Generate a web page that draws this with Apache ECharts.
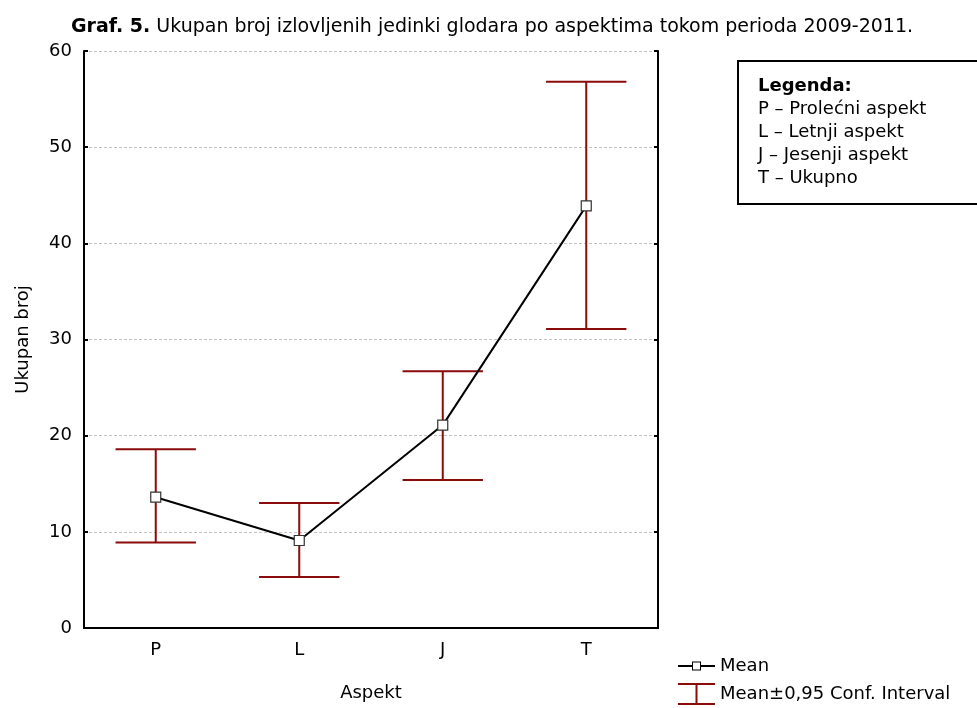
<!DOCTYPE html>
<html>
<head>
<meta charset="utf-8">
<script src="https://cdn.jsdelivr.net/npm/echarts@6/dist/echarts.min.js"></script>
<style>html,body{margin:0;padding:0;background:#fff;}#chart{width:977px;height:708px;}</style>
</head>
<body>
<div id="chart"></div>
<script>
const categories = ['P', 'L', 'J', 'T'];
const meanValues = [13.6, 9.1, 21.1, 43.9];
const ciLower = [8.9, 5.3, 15.4, 31.1];
const ciUpper = [18.6, 13.0, 26.7, 56.8];
const yTicks = { min: 0, max: 60, interval: 10 };
const legendLines = ['P – Prolećni aspekt', 'L – Letnji aspekt', 'J – Jesenji aspekt', 'T – Ukupno'];

const FONT = 'DejaVu Sans, Liberation Sans, Arial, sans-serif';
const RED = '#8B0A0A';

const chart = echarts.init(document.getElementById('chart'), null, { renderer: 'canvas' });

const ciData = categories.map((c, i) => [i, ciLower[i], ciUpper[i]]);

const option = {
  backgroundColor: '#fff',
  animation: false,
  textStyle: { fontFamily: FONT },
  title: {
    text: '{b|Graf. 5.} Ukupan broj izlovljenih jedinki glodara po aspektima tokom perioda 2009-2011.',
    left: 66,
    top: 13,
    textStyle: {
      fontFamily: FONT, fontSize: 19, fontWeight: 'normal', color: '#000',
      rich: { b: { fontFamily: FONT, fontSize: 19, fontWeight: 'bold', color: '#000' } }
    }
  },
  grid: { left: 84, right: 319, top: 51, bottom: 80 },
  legend: [
    {
      orient: 'vertical', left: 673, top: 652, itemWidth: 37, itemHeight: 9, itemGap: 10,
      textStyle: { fontFamily: FONT, fontSize: 18, color: '#000' },
      selectedMode: false,
      data: [{
        name: 'Mean',
        icon: 'path://M0,3.5h14v2h-14z M14,0h9v9h-9z M15,1v7h7v-7z M23,3.5h14v2h-14z',
        itemStyle: { color: '#000', borderWidth: 0 }
      }]
    },
    {
      orient: 'vertical', left: 673, top: 678, itemWidth: 37, itemHeight: 22,
      textStyle: { fontFamily: FONT, fontSize: 18, color: '#000' },
      selectedMode: false,
      data: [{
        name: 'Mean±0,95 Conf. Interval',
        icon: 'path://M0,0h37v2h-37z M17.5,0h2v22h-2z M0,20h37v2h-37z',
        itemStyle: { color: RED, borderWidth: 0 }
      }]
    }
  ],
  xAxis: [
    {
      type: 'category', data: categories, position: 'bottom', boundaryGap: true,
      name: 'Aspekt', nameLocation: 'middle', nameGap: 56,
      nameTextStyle: { fontFamily: FONT, fontSize: 18, color: '#000' },
      axisLine: { lineStyle: { color: '#000', width: 2 } },
      axisTick: { inside: true, length: 4, alignWithLabel: true, lineStyle: { color: '#000', width: 2 } },
      axisLabel: { fontFamily: FONT, fontSize: 18, color: '#000', margin: 13 },
      splitLine: { show: false }
    },
    {
      type: 'category', data: categories, position: 'top', boundaryGap: true,
      axisLine: { lineStyle: { color: '#000', width: 2 } },
      axisTick: { inside: true, length: 4, alignWithLabel: true, lineStyle: { color: '#000', width: 2 } },
      axisLabel: { show: false },
      splitLine: { show: false }
    }
  ],
  yAxis: [
    {
      type: 'value', min: yTicks.min, max: yTicks.max, interval: yTicks.interval, position: 'left',
      name: 'Ukupan broj', nameLocation: 'middle', nameGap: 52,
      nameTextStyle: { fontFamily: FONT, fontSize: 18, color: '#000' },
      axisLine: { show: true, lineStyle: { color: '#000', width: 2 } },
      axisTick: { show: true, inside: true, length: 4, lineStyle: { color: '#000', width: 2 } },
      axisLabel: { fontFamily: FONT, fontSize: 18, color: '#000', margin: 12 },
      splitLine: { show: true, lineStyle: { color: '#c4c4c4', width: 1, type: [3, 2] } }
    },
    {
      type: 'value', min: yTicks.min, max: yTicks.max, interval: yTicks.interval, position: 'right',
      axisLine: { show: true, lineStyle: { color: '#000', width: 2 } },
      axisTick: { show: true, inside: true, length: 4, lineStyle: { color: '#000', width: 2 } },
      axisLabel: { show: false },
      splitLine: { show: false }
    }
  ],
  series: [
    {
      name: 'Mean±0,95 Conf. Interval',
      type: 'custom',
      xAxisIndex: 0, yAxisIndex: 0,
      z: 2,
      data: ciData,
      encode: { x: 0, y: [1, 2] },
      renderItem: function (params, api) {
        const xi = api.value(0);
        const lo = api.coord([xi, api.value(1)]);
        const hi = api.coord([xi, api.value(2)]);
        const half = api.size([1, 0])[0] * 0.28;
        const style = { stroke: RED, lineWidth: 2, fill: null };
        return {
          type: 'group',
          children: [
            { type: 'line', shape: { x1: lo[0], y1: lo[1], x2: hi[0], y2: hi[1] }, style: style },
            { type: 'line', shape: { x1: hi[0] - half, y1: hi[1], x2: hi[0] + half, y2: hi[1] }, style: style },
            { type: 'line', shape: { x1: lo[0] - half, y1: lo[1], x2: lo[0] + half, y2: lo[1] }, style: style }
          ]
        };
      }
    },
    {
      name: 'Mean',
      type: 'line',
      xAxisIndex: 0, yAxisIndex: 0,
      z: 3,
      data: meanValues,
      symbol: 'rect',
      symbolSize: 10,
      showAllSymbol: true,
      lineStyle: { color: '#000', width: 2 },
      itemStyle: { color: '#fff', borderColor: '#333', borderWidth: 1.2 }
    }
  ],
  graphic: [
    {
      type: 'rect', left: 737, top: 60, z: 10,
      shape: { width: 260, height: 143 },
      style: { fill: '#fff', stroke: '#000', lineWidth: 2 }
    },
    {
      type: 'text', left: 758, top: 75, z: 11,
      style: {
        text: '{b|Legenda:}\n' + legendLines.join('\n'),
        fontFamily: FONT, fontSize: 18, lineHeight: 23, fill: '#000',
        rich: { b: { fontFamily: FONT, fontSize: 18, fontWeight: 'bold', lineHeight: 23, fill: '#000' } }
      }
    }
  ]
};

chart.setOption(option);
</script>
</body>
</html>
